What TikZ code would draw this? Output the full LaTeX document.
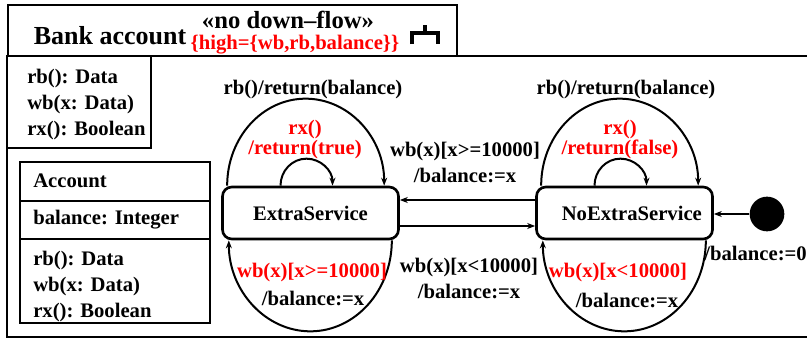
\documentclass[tikz,border=0pt]{standalone}
\usepackage{fontspec}
\setmainfont{Liberation Serif}
\usetikzlibrary{arrows.meta}
\usetikzlibrary{calc}
\usetikzlibrary{positioning}

\begin{document}
\begin{tikzpicture}[x=0.75pt, y=-0.75pt,
  txt/.style={font=\fontsize{15.5}{19.5}\selectfont\bfseries, inner sep=0pt},
  redtxt/.style={txt, text=red},
  frame/.style={line width=2pt},
  statebox/.style={draw, line width=2pt, rounded corners=7pt, minimum width=132pt,
    minimum height=39pt, inner sep=0pt, txt},
  trans/.style={line width=1.5pt, -{Stealth[length=6pt,width=4.5pt]}}]
  \useasboundingbox (0,0) rectangle (807,339);

  % frames
  \draw[frame] (8,5) rectangle (457,56);
  \draw[frame] (820,56) -- (7,56) -- (7,337) -- (820,337);
  \draw[frame] (7,56) rectangle (151,148);
  \draw[frame] (20,162) rectangle (210,323);
  \draw[frame] (20,201) -- (210,201) (20,239) -- (210,239);
  \draw[line width=2.4pt] (412,44) -- (412,33) -- (438,33) -- (438,44) (425,33) -- (425,25);

  % title
  \node[font=\fontsize{19.5}{22}\selectfont\bfseries, inner sep=0pt] (title) at (110,36) {Bank account};
  \node[font=\fontsize{18.5}{22}\selectfont\bfseries, inner sep=0pt] (stereo) at (288,20) {«no down–flow»};
  \node[redtxt] (high) at (295,45) {\{high=\{wb,rb,balance\}\}};

  % interface and class
  \node[txt, align=left, anchor=north west] (iface) at (27,69) {rb(): Data\\wb(x: Data)\\rx(): Boolean};
  \node[txt, anchor=west] (cls) at (33,181) {Account};
  \node[txt, anchor=west] (attr) at (33,220) {balance: Integer};
  \node[txt, align=left, anchor=west] (ops) at (33,287) {rb(): Data\\wb(x: Data)\\rx(): Boolean};

  % states
  \node[statebox] (extra) at (310.5,213) {ExtraService};
  \node[statebox] (noextra) at (624.5,213) {\hspace*{11pt}NoExtraService};
  \node[circle, fill, minimum size=26pt, inner sep=0pt] (init) at (767,214) {};

  \foreach \s in {extra, noextra} {
    \draw[trans] ($(\s.north west)+(6,0)$) arc[start angle=180, end angle=360, x radius=78.5, y radius=87];
    \draw[trans] ($(\s.north)+(-30,0)$) arc[start angle=180, end angle=360, x radius=26, y radius=27];
    \draw[trans] ($(\s.south east)+(-8,0)$) arc[start angle=0, end angle=180, x radius=81.5, y radius=91];
  }
  \draw[trans] ($(noextra.west)+(0,-13)$) -- ($(extra.east)+(0,-13)$);
  \draw[trans] ($(extra.east)+(0,13)$) -- ($(noextra.west)+(0,13)$);
  \draw[trans] (init) -- (init -| noextra.east);

  % labels
  \node[txt] (rbe) at (313,90) {rb()/return(balance)};
  \node[txt] (rbn) at (626,90) {rb()/return(balance)};
  \node[redtxt, align=center] (rxe) at (305,140) {rx()\\[-4.5pt]/return(true)};
  \node[redtxt, align=center] (rxn) at (620,140) {rx()\\[-4.5pt]/return(false)};
  \node[redtxt] (wbe) at (312,273) {wb(x)[x>=10000]};
  \node[txt] (bale) at (313,298) {/balance:=x};
  \node[redtxt] (wbn) at (618,273) {wb(x)[x<10000]};
  \node[txt] (baln) at (627,300) {/balance:=x};
  \node[txt, align=center] (up) at (465,162) {wb(x)[x>=10000]\\/balance:=x};
  \node[txt, align=center] (down) at (469,278) {wb(x)[x<10000]\\/balance:=x};
  \node[txt, anchor=west] (initlbl) at (704,253) {/balance:=0};
\end{tikzpicture}
\end{document}
